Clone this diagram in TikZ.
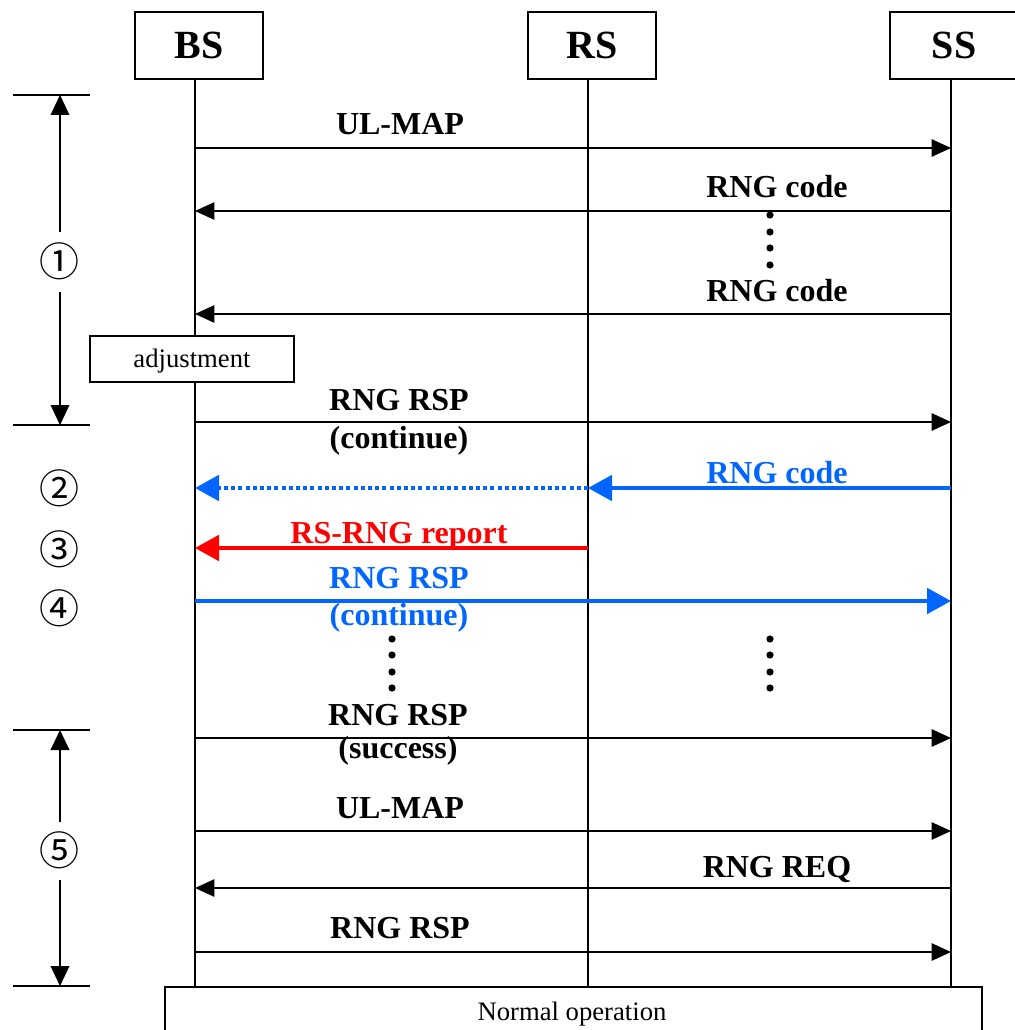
\documentclass[tikz,border=0pt]{standalone}
\usepackage{fontspec}
\setmainfont{Liberation Serif}
\newfontfamily\circfont{Noto Sans CJK JP}
\usetikzlibrary{arrows.meta}
\definecolor{myblue}{RGB}{0,102,255}
\definecolor{myred}{RGB}{255,0,0}
\begin{document}
\begin{tikzpicture}[x=0.75pt,y=-0.75pt,
  entity/.style={draw, line width=1.2pt, minimum width=96pt, minimum height=50.25pt, inner sep=0pt,
    font=\fontsize{30}{34}\selectfont\bfseries},
  life/.style={line width=1.2pt},
  msg/.style={line width=1.2pt, -{Triangle[length=14.5pt,width=13pt]}},
  bigmsg/.style={line width=3pt, -{Triangle[length=18pt,width=19pt]}},
  dotmsg/.style={line width=3pt, dash pattern=on 3pt off 2.4pt, -{Triangle[length=18pt,width=19pt]}},
  brk/.style={line width=1.2pt, -{Triangle[length=15pt,width=14pt]}},
  tick/.style={line width=1.2pt},
  lbl/.style={anchor=base, inner sep=0pt, font=\fontsize{24}{28}\selectfont\bfseries},
  note/.style={draw, fill=white, line width=1.2pt, inner sep=0pt, font=\fontsize{20}{24}\selectfont},
  circ/.style={inner sep=0pt, font=\circfont\fontsize{30}{34}\selectfont},
  dotc/.style={radius=2.7pt}
]
\useasboundingbox (0,0) rectangle (1014,1030);

% entities
\node[entity] (BS) at (199,45.5) {BS};
\node[entity] (RS) at (592,45.5) {RS};
\node[entity] (SS) at (954,45.5) {SS};
\node[note, minimum width=612.75pt, minimum height=36.75pt] (NO) at (573.5,1011.5) {};
\node[anchor=base, inner sep=0pt, font=\fontsize{20}{24}\selectfont] (NOt) at (572,1020) {Normal operation};

% lifeline anchors
\coordinate (bsL) at (195,79);
\coordinate (rsL) at (588,79);
\coordinate (ssL) at (951,79);
\draw[life] (bsL) -- (bsL |- NO.north);
\draw[life] (rsL) -- (rsL |- NO.north);
\draw[life] (ssL) -- (ssL |- NO.north);

% message rows
\coordinate (m1) at (0,148);
\coordinate (m2) at (0,211);
\coordinate (m3) at (0,314);
\coordinate (m4) at (0,422);
\coordinate (m5) at (0,488);
\coordinate (m6) at (0,548);
\coordinate (m7) at (0,601);
\coordinate (m8) at (0,738);
\coordinate (m9) at (0,831);
\coordinate (m10) at (0,888);
\coordinate (m11) at (0,952);

% adjustment box (covers BS lifeline)
\node[note, minimum width=153pt, minimum height=34.5pt] (ADJ) at (192,359) {};
\node[anchor=base, inner sep=0pt, font=\fontsize{20}{24}\selectfont] (ADJt) at (192,367) {adjustment};

% messages
\draw[msg] (bsL |- m1) -- (ssL |- m1);
\node[lbl] (l1) at (400,135) {UL-MAP};

\draw[msg] (ssL |- m2) -- (bsL |- m2);
\node[lbl] (l2) at (777,198) {RNG code};

\draw[msg] (ssL |- m3) -- (bsL |- m3);
\node[lbl] (l3) at (777,301) {RNG code};

\draw[msg] (bsL |- m4) -- (ssL |- m4);
\node[lbl] (l4a) at (399,410) {RNG RSP};
\node[lbl] (l4b) at (399,448) {(continue)};

\draw[bigmsg, myblue] (ssL |- m5) -- (rsL |- m5);
\draw[dotmsg, myblue] (rsL |- m5) -- (bsL |- m5);
\node[lbl, text=myblue] (l5) at (777,483) {RNG code};

\draw[bigmsg, myred] (rsL |- m6) -- (bsL |- m6);
\node[lbl, text=myred] (l6) at (399,543) {RS-RNG report};

\draw[bigmsg, myblue] (bsL |- m7) -- (ssL |- m7);
\node[lbl, text=myblue] (l7a) at (399,588) {RNG RSP};
\node[lbl, text=myblue] (l7b) at (399,625) {(continue)};

\draw[msg] (bsL |- m8) -- (ssL |- m8);
\node[lbl] (l8a) at (398,725) {RNG RSP};
\node[lbl] (l8b) at (398,758) {(success)};

\draw[msg] (bsL |- m9) -- (ssL |- m9);
\node[lbl] (l9) at (400,818) {UL-MAP};

\draw[msg] (ssL |- m10) -- (bsL |- m10);
\node[lbl] (l10) at (777,877) {RNG REQ};

\draw[msg] (bsL |- m11) -- (ssL |- m11);
\node[lbl] (l11) at (400,938) {RNG RSP};

% vertical dots
\foreach \yy in {215,232,248,265} \fill[dotc] (770,\yy) circle;
\foreach \yy in {639,655,672,688} {\fill[dotc] (392,\yy) circle; \fill[dotc] (770,\yy) circle;}

% phase markers
\node[circ] (c1) at (59,261) {①};
\node[circ] (c2) at (59,488) {②};
\node[circ] (c3) at (59,549) {③};
\node[circ] (c4) at (59,608) {④};
\node[circ] (c5) at (59,850) {⑤};

\draw[tick] (13,95) -- (90,95);
\draw[tick] (13,425) -- (90,425);
\draw[tick] (13,730) -- (90,730);
\draw[tick] (13,986) -- (90,986);

\coordinate (b1top) at (60,95);
\coordinate (b1a) at (60,232);
\coordinate (b1b) at (60,292);
\coordinate (b1bot) at (60,425);
\draw[brk] (b1a) -- (b1top);
\draw[brk] (b1b) -- (b1bot);

\coordinate (b5top) at (60,730);
\coordinate (b5a) at (60,822);
\coordinate (b5b) at (60,880);
\coordinate (b5bot) at (60,986);
\draw[brk] (b5a) -- (b5top);
\draw[brk] (b5b) -- (b5bot);
\end{tikzpicture}
\end{document}
